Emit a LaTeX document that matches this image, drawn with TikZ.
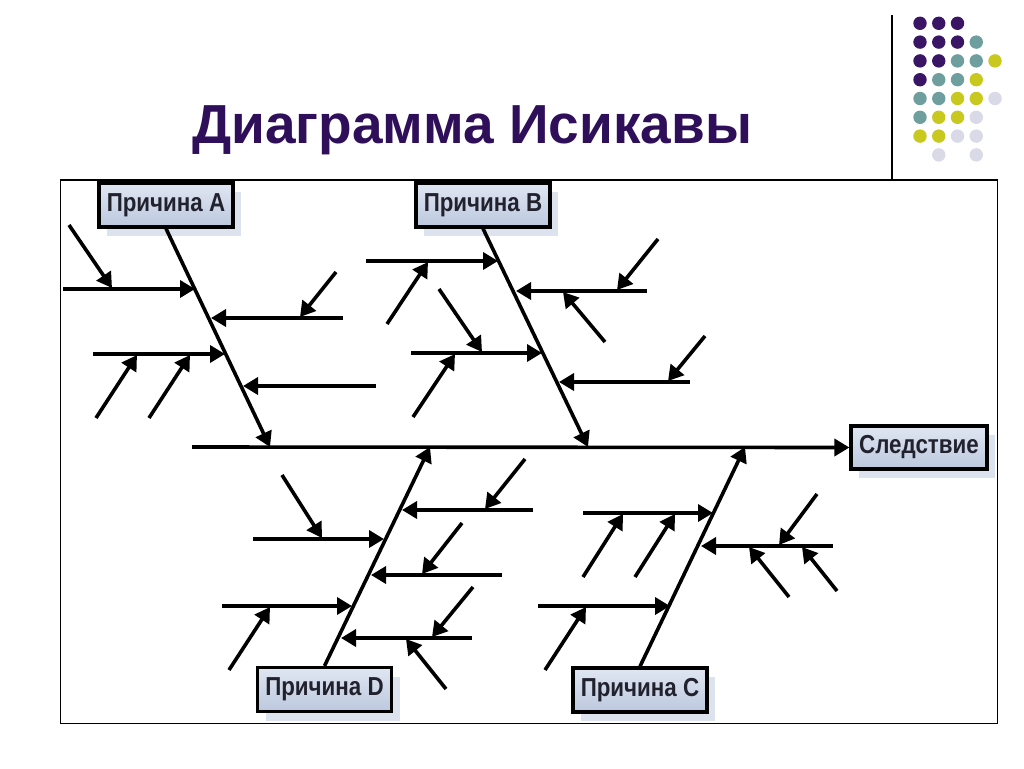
\documentclass[tikz,border=0pt]{standalone}
\usepackage{fontspec}
\setmainfont{Liberation Sans}
\newfontfamily\boxfont[FakeStretch=0.86]{Liberation Sans}
\usetikzlibrary{arrows.meta,shadows}
\definecolor{titlec}{HTML}{2F0F5A}
\definecolor{dpurple}{HTML}{3A1566}
\definecolor{dteal}{HTML}{6E9E9E}
\definecolor{dyellow}{HTML}{C8C81E}
\definecolor{dlav}{HTML}{D9D9E8}
\definecolor{boxtop}{HTML}{E0E6F2}
\definecolor{boxbot}{HTML}{BCC8DE}
\definecolor{shadowc}{HTML}{DCE2EE}
\definecolor{boxtext}{HTML}{22222E}
\tikzset{
  arr/.style={line width=3.6pt,-{Triangle[length=15pt,width=17pt]}},
  cause/.style={draw=black,line width=3.2pt,top color=boxtop,bottom color=boxbot,
    minimum width=134pt,minimum height=44pt,inner sep=0pt,text=boxtext,
    font=\boxfont\bfseries\fontsize{26pt}{28pt}\selectfont,
    drop shadow={shadow xshift=8pt,shadow yshift=-9pt,fill=shadowc,opacity=1}},
  dot/.style={circle,inner sep=0pt,minimum size=13.4pt},
}
\begin{document}
\begin{tikzpicture}[x=1pt,y=-1pt]
\useasboundingbox (0,0) rectangle (1024,768);
\fill[white] (0,0) rectangle (1024,768);
% title
\node[anchor=base west,inner sep=0pt,text=titlec,font=\fontsize{55pt}{60pt}\selectfont\bfseries] (title) at (192,143) {Диаграмма Исикавы};
% divider
\coordinate (dvt) at (892,15);
\coordinate (dvb) at (892,180);
\draw[line width=1.5pt] (dvt) -- (dvb);
% dots
\foreach \r/\c/\col in {0/0/dpurple,0/1/dpurple,0/2/dpurple,
  1/0/dpurple,1/1/dpurple,1/2/dpurple,1/3/dteal,
  2/0/dpurple,2/1/dpurple,2/2/dteal,2/3/dteal,2/4/dyellow,
  3/0/dpurple,3/1/dteal,3/2/dteal,3/3/dyellow,
  4/0/dteal,4/1/dteal,4/2/dyellow,4/3/dyellow,4/4/dlav,
  5/0/dteal,5/1/dyellow,5/2/dyellow,5/3/dlav,
  6/0/dyellow,6/1/dyellow,6/2/dlav,6/3/dlav,
  7/1/dlav,7/3/dlav}
  \node[dot,fill=\col] (dot\r\c) at (920+18.75*\c,23.3+18.8*\r) {};
% frame
\draw[line width=1.5pt] (60.5,180) rectangle (997.5,723.5);
% boxes
\node[cause] (A) at (166,205) {Причина A};
\node[cause] (B) at (483,205) {Причина B};
\node[cause] (D) at (324.5,689.5) {Причина D};
\node[cause] (C) at (640,690) {Причина C};
\node[cause,minimum width=136pt,minimum height=43pt] (E) at (919,447.5) {Следствие};
% coordinates
\foreach \n/\x/\y in {spL/192/447, at/270/447, bt/588/447, dt/430/447, ct/745/447,
  a1s/63/289, a1e/195/289, a1ps/69/225, a1pe/112/288,
  a2s/343/318, a2e/211/318, a2ps/336/272, a2pe/300/317,
  a3s/93/354, a3e/225/354, a3ps/96/418, a3pe/137/355, a3qs/149/418, a3qe/190/355,
  a4s/376/386, a4e/243/386,
  b1s/366/261, b1e/498/261, b1ps/387/324, b1pe/428/262,
  b2s/647/291, b2e/516/291, b2ps/658/239, b2pe/617/290, b2qs/605/342, b2qe/563/292,
  b3s/411/353, b3e/542/353, b3ps/439/289, b3pe/482/352, b3qs/413/417, b3qe/455/354,
  b4s/690/382, b4e/559/382, b4ps/705/336, b4pe/668/381,
  d1s/533/510, d1e/402/510, d1ps/525/459, d1pe/485/509,
  d2s/253/539, d2e/384/539, d2ps/282/475, d2pe/322/538,
  d3s/502/575, d3e/371/575, d3ps/462/523, d3pe/422/574,
  d4s/222/606, d4e/352/606, d4ps/229/670, d4pe/270/607,
  d5s/472/638, d5e/341/638, d5ps/473/587, d5pe/432/637, d5qs/446/689, d5qe/406/639,
  c1s/583/513, c1e/713/513, c1ps/583/577, c1pe/623/514, c1qs/635/577, c1qe/675/514,
  c2s/833/546, c2e/701/546, c2ps/817/494, c2pe/779/545, c2qs/789/597, c2qe/749/547, c2rs/837/591, c2re/802/547,
  c3s/538/606, c3e/670/606, c3ps/545/670, c3pe/586/607}
  \coordinate (\n) at (\x,\y);
% spine and ribs
\draw[arr] (spL) -- (E.west);
\draw[arr] (A.south) -- (at);
\draw[arr] (B.south) -- (bt);
\draw[arr] (D.north) -- (dt);
\draw[arr] (C.north) -- (ct);
% branches
\foreach \s/\e in {a1s/a1e,a1ps/a1pe,a2s/a2e,a2ps/a2pe,a3s/a3e,a3ps/a3pe,a3qs/a3qe,a4s/a4e,
  b1s/b1e,b1ps/b1pe,b2s/b2e,b2ps/b2pe,b2qs/b2qe,b3s/b3e,b3ps/b3pe,b3qs/b3qe,b4s/b4e,b4ps/b4pe,
  d1s/d1e,d1ps/d1pe,d2s/d2e,d2ps/d2pe,d3s/d3e,d3ps/d3pe,d4s/d4e,d4ps/d4pe,d5s/d5e,d5ps/d5pe,d5qs/d5qe,
  c1s/c1e,c1ps/c1pe,c1qs/c1qe,c2s/c2e,c2ps/c2pe,c2qs/c2qe,c2rs/c2re,c3s/c3e,c3ps/c3pe}
  \draw[arr] (\s) -- (\e);
\end{tikzpicture}
\end{document}
